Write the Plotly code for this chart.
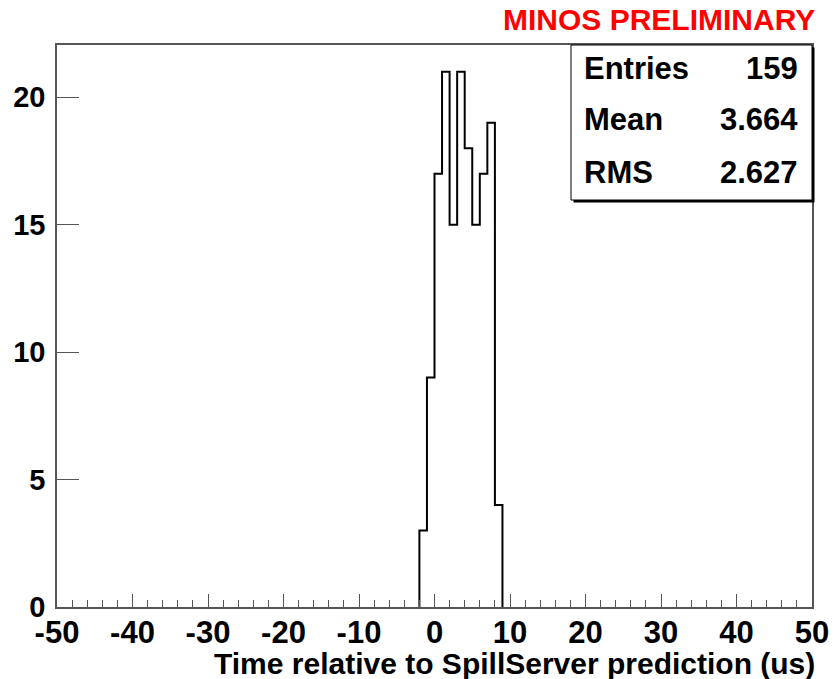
import plotly.graph_objects as go

# Histogram contents: 1 us bins, low edges below
bin_low_edges = [-2, -1, 0, 1, 2, 3, 4, 5, 6, 7, 8]
bin_counts = [3, 9, 17, 21, 15, 21, 18, 15, 17, 19, 4]
bin_width = 1

# Axis tick values and labels (plain ASCII hyphen for negatives)
x_tickvals = [-50, -40, -30, -20, -10, 0, 10, 20, 30, 40, 50]
x_ticktext = ["-50", "-40", "-30", "-20", "-10", "0", "10", "20", "30", "40", "50"]
y_tickvals = [0, 5, 10, 15, 20]

# Statistics box entries
stat_names = ["Entries", "Mean", "RMS"]
stat_values = ["159", "3.664", "2.627"]

x_range = [-50, 50]
y_max = 1.05 * max(bin_counts)

# Build the outline of the histogram as a step path
xs = [bin_low_edges[0]] + bin_low_edges + [bin_low_edges[-1] + bin_width]
ys = [0] + bin_counts + [0]

FONT = "Liberation Sans, Arial, Helvetica, sans-serif"

fig = go.Figure()
fig.add_trace(go.Scatter(
    x=xs, y=ys, mode="lines", line=dict(shape="hv", color="black", width=2),
    hoverinfo="skip", showlegend=False,
))

W, H = 840, 679
ml, mr, mt, mb = 57, 28, 45, 72
pw, ph = W - ml - mr, H - mt - mb

fig.update_layout(
    width=W, height=H,
    margin=dict(l=ml, r=mr, t=mt, b=mb),
    paper_bgcolor="white", plot_bgcolor="white",
    font=dict(family=FONT, color="black"),
    showlegend=False,
    xaxis=dict(
        range=x_range, tickmode="array", tickvals=x_tickvals, ticktext=x_ticktext,
        ticks="inside", ticklen=13,
        tickwidth=1, tickcolor="#555", showgrid=False, zeroline=False,
        showline=True, linecolor="#555", linewidth=1.5, mirror=True,
        tickfont=dict(size=31, family=FONT, weight="bold"),
        ticklabelstandoff=-3,
        minor=dict(dtick=2, tick0=-50, ticks="inside", ticklen=7, tickcolor="#555", showgrid=False),
        fixedrange=True,
    ),
    yaxis=dict(
        range=[0, y_max], tickmode="array", tickvals=y_tickvals,
        ticks="inside", ticklen=22,
        tickwidth=1, tickcolor="#555", showgrid=False, zeroline=False,
        showline=True, linecolor="#555", linewidth=1.5, mirror=True,
        tickfont=dict(size=29, family=FONT, weight="bold"),
        ticklabelstandoff=4,
        fixedrange=True,
    ),
)

# Statistics box with a drop shadow
bx0 = (571 - ml) / pw
by0 = (607 - 200) / ph
sx = 2.5 / pw
sy = 2.5 / ph
fig.add_shape(type="rect", xref="paper", yref="paper",
              x0=bx0 + sx, x1=1 + sx, y0=by0 - sy, y1=1 - sy,
              fillcolor="black", line=dict(width=0), layer="above")
fig.add_shape(type="rect", xref="paper", yref="paper",
              x0=bx0, x1=1, y0=by0, y1=1,
              fillcolor="white", line=dict(color="black", width=1), layer="above")

row_centers = [69, 120, 172]
for name, val, yc in zip(stat_names, stat_values, row_centers):
    yp = (607 - yc) / ph
    fig.add_annotation(xref="paper", yref="paper", x=(582 - ml) / pw, y=yp,
                       xanchor="left", yanchor="middle", text=name, showarrow=False,
                       font=dict(size=31, family=FONT, weight="bold", color="black"))
    fig.add_annotation(xref="paper", yref="paper", x=(800 - ml) / pw, y=yp,
                       xanchor="right", yanchor="middle", text=val, showarrow=False,
                       font=dict(size=31, family=FONT, weight="bold", color="black"))

# Axis title, right-aligned beneath the x axis
fig.add_annotation(xref="paper", yref="paper", x=1, y=0, xanchor="right", yanchor="middle",
                   xshift=5, yshift=-(663 - 607),
                   text="Time relative to SpillServer prediction (us)", showarrow=False,
                   font=dict(size=30, family=FONT, weight="bold", color="black"))

# Experiment label
fig.add_annotation(xref="paper", yref="paper", x=1, y=1, xanchor="right", yanchor="middle",
                   xshift=5, yshift=(45 - 19),
                   text="MINOS PRELIMINARY", showarrow=False,
                   font=dict(size=30, family=FONT, weight="bold", color="#ff0000"))

fig.write_html("out.html")
